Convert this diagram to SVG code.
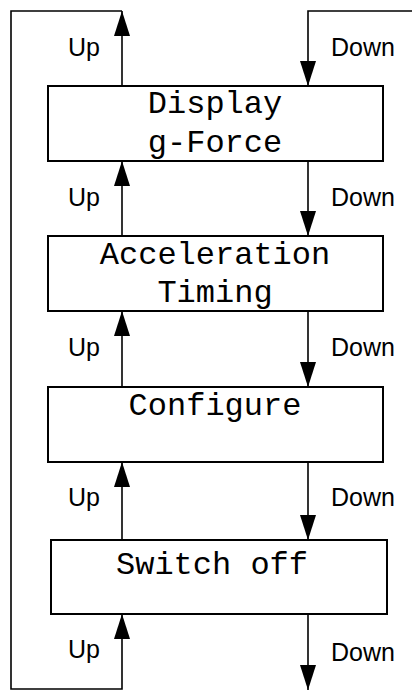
<svg xmlns="http://www.w3.org/2000/svg" width="412" height="690" viewBox="0 0 412 690">
  <style>
    .box { fill: #ffffff; stroke: #000000; stroke-width: 2; }
    .name { font-family: "Liberation Mono", "Courier New", monospace; font-size: 32px; fill: #000000; text-anchor: middle; }
    .wire { fill: none; stroke: #000000; stroke-width: 1.6; marker-end: url(#head); }
    .lbl { font-family: "Liberation Sans", Arial, sans-serif; font-size: 25px; fill: #000000; }
  </style>
  <defs>
    <marker id="head" viewBox="0 0 25 16" markerUnits="userSpaceOnUse" markerWidth="25" markerHeight="16" refX="25" refY="8" orient="auto">
      <path d="M0,0 L25,8 L0,16 Z" fill="#000000"/>
    </marker>
  </defs>
  <rect width="412" height="690" fill="#ffffff"/>

  <!-- state boxes -->
  <g id="display-gforce">
    <rect class="box" x="48" y="86" width="335" height="75"/>
    <text class="name" x="215" y="113">Display</text>
    <text class="name" x="215" y="152">g-Force</text>
  </g>
  <g id="acceleration-timing">
    <rect class="box" x="48" y="236" width="335" height="75"/>
    <text class="name" x="215" y="264">Acceleration</text>
    <text class="name" x="215" y="302">Timing</text>
  </g>
  <g id="configure">
    <rect class="box" x="48" y="387" width="335" height="75"/>
    <text class="name" x="215" y="415">Configure</text>
  </g>
  <g id="switch-off">
    <rect class="box" x="51" y="540" width="336" height="74"/>
    <text class="name" x="212" y="574">Switch off</text>
  </g>

  <!-- transitions -->
  <g id="connectors">
    <path class="wire" d="M122,86 V11"/>
    <path class="wire" d="M122,11 H11 V689 H122 V614"/>
    <path class="wire" d="M412,11 H308 V86"/>
    <path class="wire" d="M122,236 V161"/>
    <path class="wire" d="M308,161 V236"/>
    <path class="wire" d="M122,387 V311"/>
    <path class="wire" d="M308,311 V387"/>
    <path class="wire" d="M122,540 V462"/>
    <path class="wire" d="M308,462 V540"/>
    <path class="wire" d="M308,614 V690"/>

    <text class="lbl" x="68" y="56">Up</text>
    <text class="lbl" x="68" y="206">Up</text>
    <text class="lbl" x="68" y="356">Up</text>
    <text class="lbl" x="68" y="506">Up</text>
    <text class="lbl" x="68" y="658">Up</text>

    <text class="lbl" x="331" y="56">Down</text>
    <text class="lbl" x="331" y="206">Down</text>
    <text class="lbl" x="331" y="356">Down</text>
    <text class="lbl" x="331" y="506">Down</text>
    <text class="lbl" x="331" y="661">Down</text>
  </g>
</svg>
